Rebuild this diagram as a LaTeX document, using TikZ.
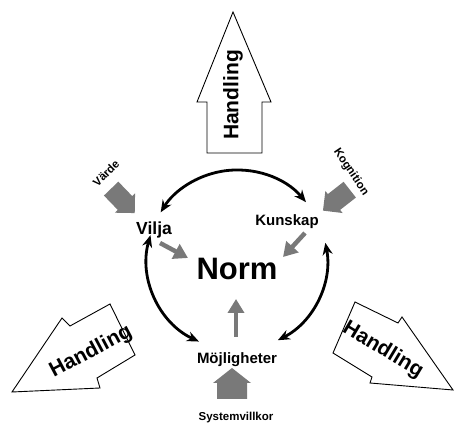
\documentclass[tikz,border=0pt]{standalone}
\usepackage{fontspec}
\setmainfont{Liberation Sans}
\usetikzlibrary{arrows.meta}
\tikzset{
  lbl/.style={font=\bfseries, inner sep=0pt, anchor=base},
  handtxt/.style={font=\bfseries\fontsize{21}{24}\selectfont, inner sep=0pt},
  whitearrow/.style={draw=black, fill=white, line width=0.9pt, line join=miter},
  grayblock/.style={fill=gray!95!black},
  cyc/.style={line width=2.8pt, {Stealth[length=12pt,width=10pt]}-{Stealth[length=12pt,width=10pt]}},
  garrow/.style={draw=gray!95!black, line width=4.5pt, -{Triangle[length=14pt,width=16pt]}, shorten >=0pt},
}
\begin{document}
\begin{tikzpicture}[x=1pt,y=1pt]
\useasboundingbox (0,0) rectangle (455,427);
% white Handling arrows
\draw[whitearrow] (233,415) -- (271,325) -- (262,325) -- (262,274) -- (207,274) -- (207,325) -- (197,325) -- cycle;
\draw[whitearrow] (12,35) -- (62,109) -- (70,101) -- (110,123) -- (135,72) -- (97,49) -- (100,39) -- cycle;
\draw[whitearrow] (355,125) -- (398,104) -- (402,110) -- (453,37) -- (370,44) -- (372,50) -- (333,74) -- cycle;
\node[handtxt, rotate=90] (h1) at (233,332) {Handling};
\node[handtxt, rotate=28] (h2) at (91,75) {Handling};
\node[handtxt, rotate=-31] (h3) at (383,77) {Handling};
% cycle arcs
\coordinate (c) at (237,167);
\draw[cyc] (c) ++(40:90) arc (40:148:90);
\draw[cyc] (c) ++(164:90) arc (164:245:90);
\draw[cyc] (c) ++(-63:90) arc (-63:11:90);
% labels
\node[lbl, font=\bfseries\fontsize{17.5}{20}\selectfont] (vilja) at (154,192) {Vilja};
\node[lbl, font=\bfseries\fontsize{15}{18}\selectfont] (kunskap) at (287,201) {Kunskap};
\node[lbl, font=\bfseries\fontsize{31}{36}\selectfont] (norm) at (237,147) {Norm};
\node[lbl, font=\bfseries\fontsize{15}{18}\selectfont] (moj) at (237,63) {Möjligheter};
\node[lbl, font=\bfseries\fontsize{11.5}{14}\selectfont] (sys) at (236,6) {Systemvillkor};
\node[font=\bfseries\fontsize{11.5}{14}\selectfont, inner sep=0pt, rotate=45] (varde) at (106,254) {Värde};
\node[font=\bfseries\fontsize{11.5}{14}\selectfont, inner sep=0pt, rotate=-56] (kogn) at (351,255) {Kognition};
% gray block arrows
\fill[grayblock, shift={(125,224)}, rotate=-46] (-20,-10) -- (0,-10) -- (0,-14) -- (14,0) -- (0,14) -- (0,10) -- (-20,10) -- cycle;
\fill[grayblock, shift={(334,225)}, rotate=218] (-20,-10) -- (0,-10) -- (0,-14) -- (14,0) -- (0,14) -- (0,10) -- (-20,10) -- cycle;
\fill[grayblock, shift={(232,44)}, rotate=90] (-16,-15) -- (0,-15) -- (0,-19) -- (15,0) -- (0,19) -- (0,15) -- (-16,15) -- cycle;
% small gray arrows toward Norm
\coordinate (va) at (160,184);
\coordinate (vb) at (188,169);
\coordinate (ka) at (305,194);
\coordinate (kb) at (283,170);
\coordinate (ma) at (236,90);
\coordinate (mb) at (236,128);
\draw[garrow] (va) -- (vb);
\draw[garrow] (ka) -- (kb);
\draw[garrow] (ma) -- (mb);
\end{tikzpicture}
\end{document}
